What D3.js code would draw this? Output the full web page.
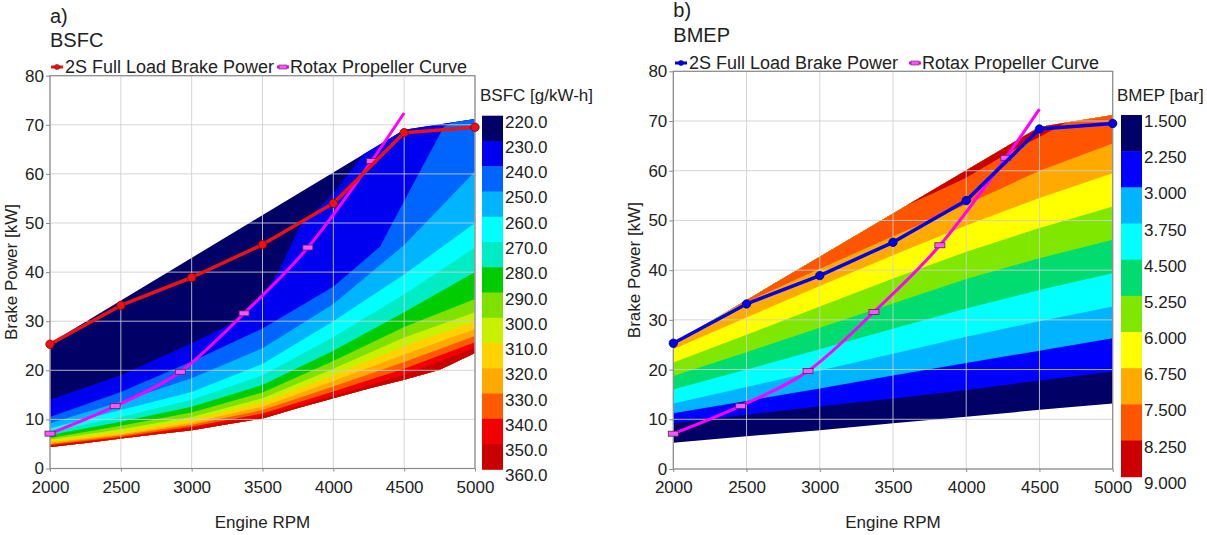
<!DOCTYPE html>
<html><head><meta charset="utf-8">
<script src="https://cdn.jsdelivr.net/npm/d3@7"></script>
<style>
body{margin:0;background:#fff}
text{font-family:"Liberation Sans",Arial,sans-serif;fill:#222}
</style></head>
<body><svg id="chart" width="1207" height="535"></svg>
<script>
// ---------- shared data ----------
const rpmTicks = [2000, 2500, 3000, 3500, 4000, 4500, 5000];
const powerTicks = [0, 10, 20, 30, 40, 50, 60, 70, 80];
const fullLoadRpm = [2000, 2500, 3000, 3500, 4000, 4500, 5000];
const fullLoadPower = [25.3, 33.2, 38.9, 45.6, 54.0, 68.4, 69.5];
const propRpm = [2000, 2460, 2920, 3370, 3820, 4270, 4500];
const propPower = [7.1, 12.7, 19.7, 31.6, 45.0, 62.6, 72.4];
const propMarkerCount = 6;

// ---------- panel a: BSFC ----------
const bsfcLevels = [220,230,240,250,260,270,280,290,300,310,320,330,340,350,360];
const bsfcLabels = bsfcLevels.map(v => v.toFixed(1));
const bsfcColors = ["#000066","#0000f0","#0064ff","#00b4ff","#00ffff","#00ecc4","#00cc00","#80e000","#c8f000","#ffd200","#ffaa00","#ff5a00","#f00000","#c80000"];
const bsfcTop = [[2000,25.5],[4500,69.0],[5000,71.2]];
const bsfcBottom = [[2000,4.4],[2250,5.2],[2500,6.1],[2750,7.0],[3000,7.8],[3250,9.0],[3500,10.2],[3750,12.3],[4000,14.3],[4250,16.3],[4500,18.1],[4750,20.1],[5000,23.5]];
// contour lines separating the bands, levels 230 ... 350
const bsfcB230 = [[2000,14.0],[2500,19.0],[3000,25.5],[3300,29.8],[3500,35.0],[3620,40.4],[3760,49.2],[4000,56.0],[4200,63.5],[4400,90]];
const bsfcB240 = [[2000,10.5],[2500,15.6],[3000,21.8],[3500,28.5],[4000,37.0],[4330,45.2],[4500,54.5],[4780,69.6],[5000,73.0]];
const bsfcB250 = [[2000,9.2],[2500,13.6],[3000,18.4],[3500,24.5],[4000,33.5],[4500,45.5],[5000,60.5]];
const bsfcB260 = [[2000,8.2],[2500,11.9],[3000,15.6],[3500,21.3],[4000,30.0],[4500,39.5],[5000,50.0]];
const bsfcB270 = [[2000,7.5],[2500,10.5],[3000,14.0],[3500,19.0],[4000,26.8],[4500,35.5],[5000,45.0]];
const bsfcB280 = [[2000,6.8],[2500,9.5],[3000,12.6],[3500,17.0],[4000,24.0],[4500,31.8],[5000,40.0]];
const bsfcB290 = [[2000,6.2],[2500,8.7],[3000,11.4],[3500,15.5],[4000,21.9],[4500,28.8],[5000,34.5]];
const bsfcB300 = [[2000,5.9],[2500,8.0],[3000,10.5],[3500,14.3],[4000,20.3],[4500,26.7],[5000,31.8]];
const bsfcB310 = [[2000,5.6],[2500,7.4],[3000,9.9],[3500,13.4],[4000,19.0],[4500,24.9],[5000,30.0]];
const bsfcB320 = [[2000,5.3],[2500,7.0],[3000,9.3],[3500,12.6],[4000,17.8],[4500,23.2],[5000,28.4]];
const bsfcB330 = [[2000,5.0],[2500,6.7],[3000,8.9],[3500,11.9],[4000,16.7],[4500,21.7],[5000,27.0]];
const bsfcB340 = [[2000,4.8],[2500,6.4],[3000,8.5],[3500,11.2],[4000,15.7],[4500,20.3],[5000,25.7]];
const bsfcB350 = [[2000,4.6],[2500,6.1],[3000,8.1],[3500,10.6],[4000,14.8],[4500,19.0],[5000,24.6]];
const bsfcBoundaries = [bsfcB230,bsfcB240,bsfcB250,bsfcB260,bsfcB270,bsfcB280,bsfcB290,bsfcB300,bsfcB310,bsfcB320,bsfcB330,bsfcB340,bsfcB350];

// ---------- panel b: BMEP ----------
const bmepLevels = [1.5,2.25,3.0,3.75,4.5,5.25,6.0,6.75,7.5,8.25,9.0];
const bmepLabels = bmepLevels.map(v => v.toFixed(3));
const bmepColors = ["#000066","#0000ff","#00b4ff","#00ffff","#00dc70","#80e800","#ffff00","#ffaa00","#ff5500","#cc0000"];
const bmepTop = [[2000,25.3],[4500,68.8],[5000,71.2]];
const bmepBottom = [[2000,5.3],[2500,6.6],[3000,7.8],[3500,9.2],[4000,10.5],[4500,11.9],[5000,13.2]];
const bmepB225 = [[2000,9.2],[2500,10.9],[3000,12.6],[3500,14.2],[4000,15.9],[4500,17.8],[5000,19.6]];
const bmepB300 = [[2000,11.2],[2500,13.7],[3000,16.2],[3500,18.8],[4000,21.3],[4500,23.8],[5000,26.3]];
const bmepB375 = [[2000,13.2],[2500,16.5],[3000,19.8],[3500,23.2],[4000,26.6],[4500,29.7],[5000,32.7]];
const bmepB450 = [[2000,16.0],[2500,20.0],[3000,24.1],[3500,28.2],[4000,32.3],[4500,36.0],[5000,39.4]];
const bmepB525 = [[2000,18.7],[2500,23.5],[3000,28.4],[3500,33.3],[4000,38.2],[4500,42.4],[5000,46.1]];
const bmepB600 = [[2000,21.4],[2500,27.0],[3000,32.7],[3500,38.3],[4000,43.7],[4500,48.5],[5000,52.8]];
const bmepB675 = [[2000,24.1],[2500,30.5],[3000,36.8],[3500,43.0],[4000,49.0],[4500,54.5],[5000,59.5]];
const bmepB750 = [[2000,26.8],[2500,33.6],[3000,40.3],[3500,46.8],[4000,53.2],[4500,60.0],[5000,65.5]];
const bmepB825 = [[2000,30.0],[3000,44.5],[3500,51.8],[3800,55.8],[4000,58.6],[4300,63.8],[4500,66.8],[4700,70.0],[5000,72.5]];
const bmepBoundaries = [bmepB225,bmepB300,bmepB375,bmepB450,bmepB525,bmepB600,bmepB675,bmepB750,bmepB825];

const svg = d3.select("#chart");

function panel(o){
  const g = svg.append("g");
  const x = d3.scaleLinear().domain([2000,5000]).range([o.x0,o.x1]);
  const y = d3.scaleLinear().domain([0,80]).range([o.y0,o.y1]);
  const clipId = "clip" + o.id;
  const env = o.top.concat(o.bottom.slice().reverse());
  g.append("clipPath").attr("id",clipId).append("path")
    .attr("d", d3.line().x(d=>x(d[0])).y(d=>y(d[1]))(env) + "Z");
  const fills = g.append("g").attr("clip-path",`url(#${clipId})`);
  fills.append("rect").attr("x",o.x0).attr("y",o.y1).attr("width",o.x1-o.x0).attr("height",o.y0-o.y1).attr("fill",o.colors[0]);
  // next band fills the side of each contour line away from the base band
  const area = d3.area().x(d=>x(d[0])).y0(o.fillUp ? y(80) : y(0)).y1(d=>y(d[1]));
  o.boundaries.forEach((b,i)=>{
    const pts = [[1900,b[0][1]]].concat(b,[[5100,b[b.length-1][1]]]);
    fills.append("path").attr("d",area(pts)).attr("fill",o.colors[i+1]);
  });
  // grid
  const grid = g.append("g").attr("stroke","#cfcfcf").attr("stroke-opacity",0.85).attr("stroke-width",1);
  rpmTicks.forEach(t=>grid.append("line").attr("x1",x(t)).attr("x2",x(t)).attr("y1",o.y0).attr("y2",o.y1));
  powerTicks.forEach(t=>grid.append("line").attr("x1",o.x0).attr("x2",o.x1).attr("y1",y(t)).attr("y2",y(t)));
  // frame
  g.append("rect").attr("x",o.x0).attr("y",o.y1).attr("width",o.x1-o.x0).attr("height",o.y0-o.y1)
    .attr("fill","none").attr("stroke","#8a8a8a").attr("stroke-width",1.2);
  // axes
  const xa = g.append("g").attr("transform",`translate(0,${o.y0})`)
    .call(d3.axisBottom(x).tickValues(rpmTicks).tickSize(3).tickPadding(9).tickFormat(d3.format("d")));
  const ya = g.append("g").attr("transform",`translate(${o.x0},0)`)
    .call(d3.axisLeft(y).tickValues(powerTicks).tickSize(4).tickPadding(2));
  [xa,ya].forEach(a=>{a.select(".domain").remove();a.selectAll("line").attr("stroke","#8a8a8a");
    a.selectAll("text").attr("font-size",17).attr("fill","#222").style("font-family","Liberation Sans, Arial, sans-serif");});
  // axis titles
  g.append("text").attr("x",(o.x0+o.x1)/2).attr("y",528).attr("text-anchor","middle").attr("font-size",17).text("Engine RPM");
  g.append("text").attr("transform",`translate(${o.x0-33},${(o.y0+o.y1)/2}) rotate(-90)`).attr("text-anchor","middle").attr("font-size",17).text("Brake Power [kW]");
  // titles
  g.append("text").attr("x",o.x0).attr("y",o.tagY).attr("font-size",20).attr("fill","#111").text(o.tag);
  g.append("text").attr("x",o.x0).attr("y",o.titleY).attr("font-size",20).attr("fill","#111").text(o.title);
  // propeller curve
  const propPts = propRpm.map((r,i)=>[r,propPower[i]]);
  g.append("path").attr("d",d3.line().x(d=>x(d[0])).y(d=>y(d[1])).curve(d3.curveMonotoneX)(propPts))
    .attr("fill","none").attr("stroke","#ff00ff").attr("stroke-width",3);
  g.selectAll(".pm").data(propPts.slice(0,propMarkerCount)).join("rect")
    .attr("x",d=>x(d[0])-5).attr("y",d=>y(d[1])-2.5).attr("width",10).attr("height",5)
    .attr("fill","#ff55ff").attr("stroke","#552255").attr("stroke-width",0.8);
  // full load curve
  const flPts = fullLoadRpm.map((r,i)=>[r,fullLoadPower[i]]);
  g.append("path").attr("d",d3.line().x(d=>x(d[0])).y(d=>y(d[1]))(flPts))
    .attr("fill","none").attr("stroke",o.lineColor).attr("stroke-width",3.5).attr("stroke-linejoin","round");
  g.selectAll(".fm").data(flPts).join("circle")
    .attr("cx",d=>x(d[0])).attr("cy",d=>y(d[1])).attr("r",4.2)
    .attr("fill",o.lineColor).attr("stroke",o.markEdge).attr("stroke-width",0.8);
  // legend
  const ly = o.legendY;
  g.append("line").attr("x1",o.legX).attr("x2",o.legX+12).attr("y1",ly-6).attr("y2",ly-6).attr("stroke",o.lineColor).attr("stroke-width",3);
  g.append("circle").attr("cx",o.legX+6).attr("cy",ly-6).attr("r",2.5).attr("fill",o.lineColor).attr("stroke",o.markEdge).attr("stroke-width",0.6);
  g.append("text").attr("x",o.legX+14).attr("y",ly).attr("font-size",18).text("2S Full Load Brake Power");
  g.append("line").attr("x1",o.leg2X).attr("x2",o.leg2X+12).attr("y1",ly-6).attr("y2",ly-6).attr("stroke","#ff00ff").attr("stroke-width",3);
  g.append("rect").attr("x",o.leg2X+2).attr("y",ly-8).attr("width",8).attr("height",4).attr("fill","#ff55ff").attr("stroke","#552255").attr("stroke-width",0.6);
  g.append("text").attr("x",o.leg2X+13).attr("y",ly).attr("font-size",18).text("Rotax Propeller Curve");
  // colorbar
  const n = o.colors.length;
  const cb = d3.scaleLinear().domain([0,n]).range([o.cbY0,o.cbY1]);
  g.selectAll(".cb").data(o.colors).join("rect")
    .attr("x",o.cbX).attr("width",o.cbW).attr("y",(d,i)=>cb(i)).attr("height",(d,i)=>cb(i+1)-cb(i)+0.5).attr("fill",d=>d);
  g.selectAll(".cbl").data(o.labels).join("text")
    .attr("x",o.cbX+o.cbW+2).attr("y",(d,i)=>cb(i)+12).attr("font-size",17).text(d=>d);
  g.append("text").attr("x",o.cbTitleX).attr("y",o.cbTitleY).attr("font-size",17).text(o.cbTitle);
}

panel({id:"a", x0:50, x1:475, y0:468.5, y1:75.7, tag:"a)", tagY:23, title:"BSFC", titleY:47,
  top:bsfcTop, bottom:bsfcBottom, boundaries:bsfcBoundaries, colors:bsfcColors, labels:bsfcLabels, fillUp:false,
  lineColor:"#ee1111", markEdge:"#880000", legendY:73, legX:51, leg2X:277,
  cbX:482, cbW:21, cbY0:115.7, cbY1:469.3, cbTitle:"BSFC [g/kW-h]", cbTitleX:480, cbTitleY:101});
panel({id:"b", x0:673.3, x1:1112.7, y0:469, y1:71.3, tag:"b)", tagY:17, title:"BMEP", titleY:42,
  top:bmepTop, bottom:bmepBottom, boundaries:bmepBoundaries, colors:bmepColors, labels:bmepLabels, fillUp:true,
  lineColor:"#0000ee", markEdge:"#000066", legendY:69, legX:675, leg2X:909,
  cbX:1121, cbW:21, cbY0:115, cbY1:476.7, cbTitle:"BMEP [bar]", cbTitleX:1117, cbTitleY:101});
</script></body></html>
